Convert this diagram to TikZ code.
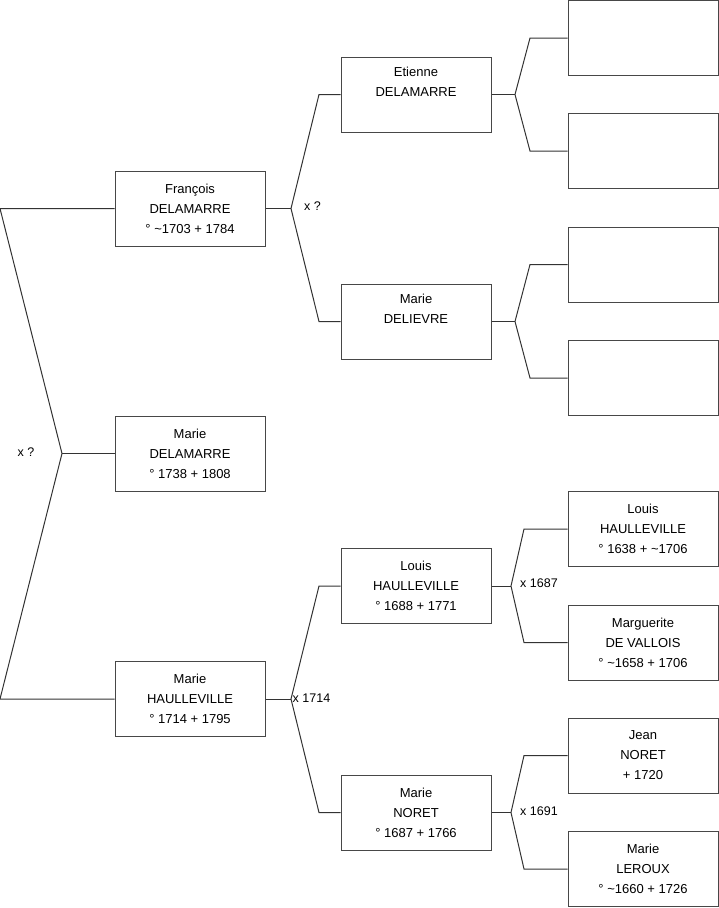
\documentclass[tikz,border=0pt]{standalone}
\usepackage{fontspec}
\setmainfont{Liberation Sans}
\begin{document}
\begin{tikzpicture}[x=1pt,y=-1pt,
  person/.style={draw=black!72, line width=1pt, fill=white, minimum width=150pt, minimum height=75pt, inner sep=0pt, align=center, font=\fontsize{13}{20}\selectfont},
  link/.style={draw=black!80, line width=1pt},
  lbl/.style={font=\fontsize{12.5}{14}\selectfont, inner sep=0pt}]
\useasboundingbox (0,0) rectangle (719,908);
% generation 0
\node[person] (fr) at (190,208.5) {François\\DELAMARRE\\° \textasciitilde1703 + 1784};
\node[person] (md) at (190,453.5) {Marie\\DELAMARRE\\° 1738 + 1808};
\node[person] (mh) at (190,699) {Marie\\HAULLEVILLE\\° 1714 + 1795};
% generation 1
\node[person] (et) at (416,94.5) {Etienne\\DELAMARRE\\\strut};
\node[person] (dl) at (416,321.5) {Marie\\DELIEVRE\\\strut};
\node[person] (lh) at (416,586) {Louis\\HAULLEVILLE\\° 1688 + 1771};
\node[person] (mn) at (416,812.5) {Marie\\NORET\\° 1687 + 1766};
% generation 2
\node[person] (e1) at (643,38) {};
\node[person] (e2) at (643,151) {};
\node[person] (d1) at (643,264.5) {};
\node[person] (d2) at (643,378) {};
\node[person] (lh1) at (643,529) {Louis\\HAULLEVILLE\\° 1638 + \textasciitilde1706};
\node[person] (lh2) at (643,642.5) {Marguerite\\DE VALLOIS\\° \textasciitilde1658 + 1706};
\node[person] (mn1) at (643,755.5) {Jean\\NORET\\+ 1720};
\node[person] (mn2) at (643,869) {Marie\\LEROUX\\° \textasciitilde1660 + 1726};
% left bracket
\coordinate (lt) at (0,208.5);
\coordinate (lv) at (62,453.5);
\coordinate (lb) at (0,699);
\draw[link] (fr.west) -- (lt) -- (lv) -- (lb) -- (mh.west);
\draw[link] (lv) -- (md.west);
\node[lbl] (lx) at (26,452) {x ?};
% François
\coordinate (fv) at (291,208.5);
\coordinate (fa) at (319,94.5);
\coordinate (fb) at (319,321.5);
\draw[link] (fr.east) -- (fv);
\draw[link] (et.west) -- (fa) -- (fv) -- (fb) -- (dl.west);
\node[lbl, anchor=west] (fx) at (304,206.5) {x ?};
% Marie HAULLEVILLE
\coordinate (hv) at (291,699);
\coordinate (ha) at (319,586);
\coordinate (hb) at (319,812.5);
\draw[link] (mh.east) -- (hv);
\draw[link] (lh.west) -- (ha) -- (hv) -- (hb) -- (mn.west);
\node[lbl, anchor=west] (hx) at (292.5,698) {x 1714};
% Etienne
\coordinate (ev) at (515,94.5);
\coordinate (ea) at (530,38);
\coordinate (eb) at (530,151);
\draw[link] (et.east) -- (ev);
\draw[link] (e1.west) -- (ea) -- (ev) -- (eb) -- (e2.west);
% Delievre
\coordinate (dv) at (515,321.5);
\coordinate (da) at (530,264.5);
\coordinate (db) at (530,378);
\draw[link] (dl.east) -- (dv);
\draw[link] (d1.west) -- (da) -- (dv) -- (db) -- (d2.west);
% Louis
\coordinate (lov) at (511,586);
\coordinate (loa) at (524,529);
\coordinate (lob) at (524,642.5);
\draw[link] (lh.east) -- (lov);
\draw[link] (lh1.west) -- (loa) -- (lov) -- (lob) -- (lh2.west);
\node[lbl, anchor=west] (lox) at (520,583.5) {x 1687};
% Noret
\coordinate (nv) at (511,812.5);
\coordinate (na) at (524,755.5);
\coordinate (nb) at (524,869);
\draw[link] (mn.east) -- (nv);
\draw[link] (mn1.west) -- (na) -- (nv) -- (nb) -- (mn2.west);
\node[lbl, anchor=west] (nx) at (520,811) {x 1691};
\end{tikzpicture}
\end{document}
